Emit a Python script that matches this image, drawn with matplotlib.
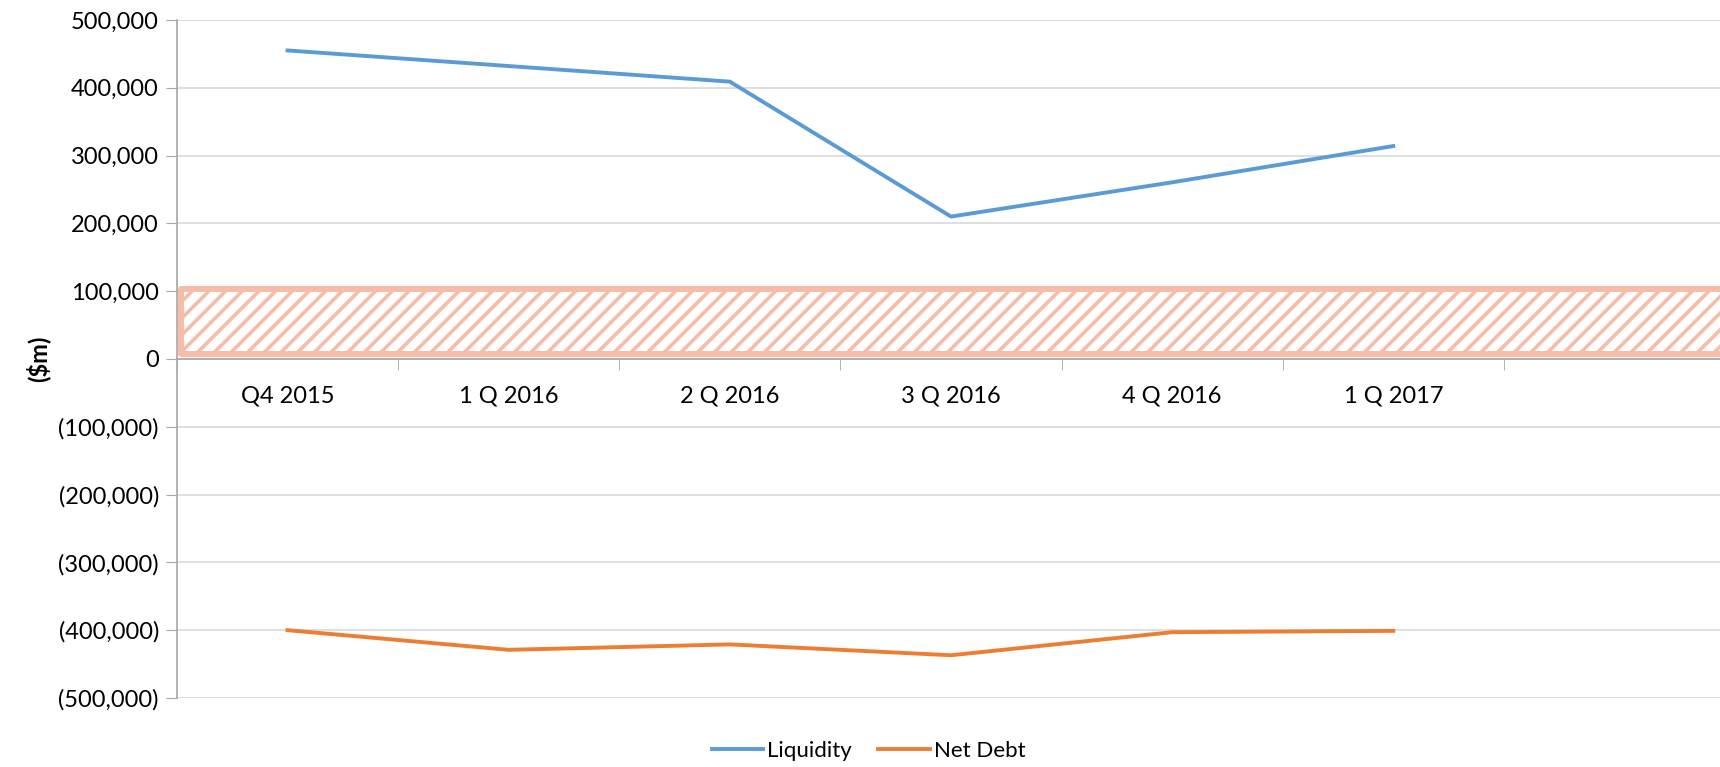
import matplotlib.pyplot as plt
import numpy as np
from matplotlib.ticker import FuncFormatter

# Data
categories = ["Q4 2015", "1 Q 2016", "2 Q 2016", "3 Q 2016", "4 Q 2016", "1 Q 2017"]
liquidity = [455000, 432000, 409000, 210000, 260500, 314000]
net_debt = [-400000, -429000, -421000, -437000, -403000, -401000]
band_low = 7000
band_high = 103000
n_slots = 7

plt.rcParams["font.family"] = ["Lato", "DejaVu Sans"]
plt.rcParams["hatch.linewidth"] = 2.6

fig = plt.figure(figsize=(17.2, 7.67), dpi=100)
ax = fig.add_axes([0.1029, 0.090, 0.9, 0.884])

x = np.arange(len(categories)) + 0.5

# Hatched band across all slots
band_x = np.array([0.02, n_slots])
ax.fill_between(
    band_x,
    band_low,
    band_high,
    facecolor="white",
    edgecolor="#F7BCA7",
    hatch="//",
    linewidth=4.3,
    zorder=2,
)

ax.plot(x, liquidity, color="#5B9BD5", lw=2.8, label="Liquidity", zorder=3)
ax.plot(x, net_debt, color="#ED7D31", lw=2.8, label="Net Debt", zorder=3)

ax.set_xlim(0, n_slots)
ax.set_ylim(-500000, 500000)
ax.set_yticks(np.arange(-500000, 500001, 100000))


def fmt(v, _):
    if v < 0:
        return f"({abs(v):,.0f})"
    return f"{v:,.0f}"


ax.yaxis.set_major_formatter(FuncFormatter(fmt))
ax.grid(axis="y", color="#D9D9D9", lw=1.2, zorder=0)
ax.set_axisbelow(True)

# category axis at y = 0
ax.spines["bottom"].set_position(("data", 0))
for side in ["top", "right"]:
    ax.spines[side].set_visible(False)
for side in ["left", "bottom"]:
    ax.spines[side].set_color("#A6A6A6")
    ax.spines[side].set_linewidth(1.2)

ax.set_xticks(x)
ax.set_xticklabels(categories, fontsize=17)
ax.set_xticks(np.arange(0, n_slots + 1), minor=True)
ax.tick_params(axis="x", which="major", length=0, pad=19)
ax.tick_params(axis="x", which="minor", length=8, color="#A6A6A6", direction="out")
ax.tick_params(axis="y", length=8, color="#A6A6A6", labelsize=17, pad=5)

fig.text(0.022, 0.532, "($m)", rotation=90, fontsize=17, fontweight="bold",
         ha="center", va="center")

fig.legend(
    loc="center",
    bbox_to_anchor=(0.505, 0.021),
    ncol=2,
    frameon=False,
    fontsize=16,
    handlelength=2.3,
    handletextpad=0.2,
    columnspacing=1.2,
)

fig.savefig("out.png", dpi=100)
